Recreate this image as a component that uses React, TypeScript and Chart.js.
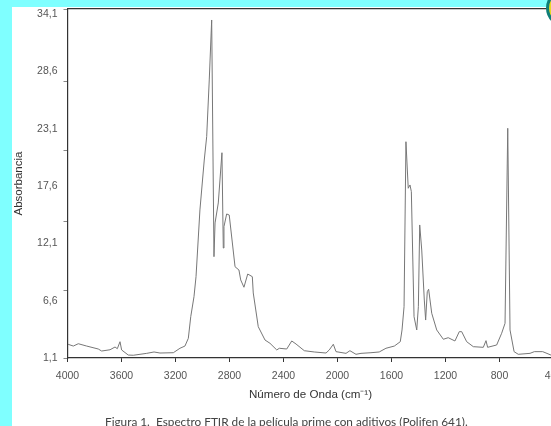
import React, { useEffect, useRef } from "react";
import { Chart, registerables } from "chart.js";

Chart.register(...registerables);

const wavenumbers = [
  3996, 3957, 3920, 3858, 3772, 3747, 3685, 3648, 3631, 3611, 3599, 3550, 3513, 3413, 3359, 3315, 3216, 3167, 3130, 3105,
  3087, 3063, 3048, 3019, 2987, 2969, 2950, 2932, 2915, 2907, 2883, 2856, 2846, 2841, 2821, 2802, 2759, 2730, 2717, 2693,
  2665, 2631, 2624, 2587, 2537, 2500, 2450, 2431, 2376, 2339, 2307, 2246, 2172, 2085, 2061, 2031, 2011, 1937, 1908, 1863,
  1826, 1752, 1691, 1641, 1579, 1535, 1522, 1507, 1493, 1476, 1463, 1453, 1433, 1413, 1401, 1391, 1376, 1357, 1347, 1335,
  1325, 1302, 1265, 1216, 1180, 1130, 1098, 1080, 1043, 994, 920, 900, 888, 821, 784, 759, 739, 722, 692, 661,
  574, 542, 480, 419, 400,
];
const absorbance = [
  2.4, 2.23, 2.45, 2.23, 1.95, 1.76, 1.88, 2.14, 1.98, 2.64, 1.86, 1.38, 1.36, 1.54, 1.67, 1.57, 1.6, 2.02, 2.23, 2.96,
  5.01, 6.9, 8.79, 15.1, 19.82, 22.03, 27.39, 33.06, 10.68, 13.87, 15.76, 20.51, 11.5, 13.52, 14.72, 14.62, 9.73, 9.42, 8.48, 7.79,
  9.04, 8.79, 7.25, 4.06, 2.8, 2.49, 1.86, 2.02, 1.95, 2.71, 2.42, 1.79, 1.67, 1.57, 1.86, 2.4, 1.7, 1.54, 1.79, 1.45,
  1.54, 1.6, 1.67, 2.02, 2.23, 2.64, 3.75, 5.95, 21.55, 17.15, 17.46, 16.83, 5.01, 3.75, 5.95, 13.68, 11.31, 6.58, 4.69, 7.37,
  7.6, 5.33, 3.75, 2.87, 3.02, 2.71, 3.59, 3.59, 2.64, 2.17, 2.11, 2.74, 2.11, 2.33, 3.44, 4.38, 22.82, 3.75, 1.7, 1.45,
  1.54, 1.7, 1.7, 1.38, 1.29,
];
const yTickLabels = [1.1, 6.6, 12.1, 17.6, 23.1, 28.6, 34.1];
const yTickMarks = [1.1, 7.5, 14.0, 20.7, 27.2, 34.1];

const FONT = "'Liberation Sans', Arial, sans-serif";
const AXIS = "#333333";
const TEXT = "#555555";

const fixBox = (s: any, size: { width?: number; height?: number }) => {
  if (size.width !== undefined) s.width = size.width;
  if (size.height !== undefined) s.height = size.height;
  s.paddingTop = 0;
  s.paddingBottom = 0;
  s.paddingLeft = 0;
  s.paddingRight = 0;
};

export default function App() {
  const ref = useRef<HTMLCanvasElement | null>(null);

  useEffect(() => {
    if (!ref.current) return;
    const chart = new Chart(ref.current, {
      type: "line",
      data: {
        datasets: [
          {
            data: wavenumbers.map((x, i) => ({ x, y: absorbance[i] })),
            borderColor: "#777777",
            borderWidth: 1,
            pointRadius: 0,
            tension: 0,
            xAxisID: "x",
            yAxisID: "y",
          },
        ],
      },
      options: {
        animation: false,
        responsive: false,
        layout: { autoPadding: false, padding: { top: 2, right: 46.5, bottom: 24, left: 0 } },
        plugins: { legend: { display: false }, tooltip: { enabled: false } },
        scales: {
          x: {
            type: "linear",
            reverse: true,
            min: 400,
            max: 4000,
            position: "bottom",
            afterFit: (s: any) => fixBox(s, { height: 44 }),
            border: { color: AXIS, width: 1.2 },
            grid: { display: true, drawOnChartArea: false, drawTicks: true, tickLength: 4, color: AXIS },
            ticks: {
              stepSize: 400,
              autoSkip: false,
              maxRotation: 0,
              padding: 8,
              color: TEXT,
              font: { family: FONT, size: 10.5 },
              callback: (v: any) => String(v),
            },
            title: {
              display: true,
              text: "Número de Onda (cm⁻¹)",
              color: "#333333",
              font: { family: FONT, size: 11.6 },
              padding: { top: 4, bottom: 0 },
            },
          },
          xTop: {
            type: "linear",
            min: 400,
            max: 4000,
            position: "top",
            afterFit: (s: any) => fixBox(s, { height: 0 }),
            border: { color: AXIS, width: 1.2 },
            grid: { display: false },
            ticks: { display: false },
          },
          y: {
            type: "linear",
            min: 1.1,
            max: 34.1,
            position: "left",
            weight: 0,
            afterFit: (s: any) => fixBox(s, { width: 4 }),
            afterBuildTicks: (s: any) => {
              s.ticks = yTickMarks.map((value) => ({ value }));
            },
            border: { color: AXIS, width: 1.2 },
            grid: { display: true, drawOnChartArea: false, drawTicks: true, tickLength: 4, color: "#888888" },
            ticks: { display: false },
          },
          yLabels: {
            type: "linear",
            min: 1.1,
            max: 34.58,
            position: "left",
            weight: 1,
            afterFit: (s: any) => fixBox(s, { width: 51.5 }),
            afterBuildTicks: (s: any) => {
              s.ticks = yTickLabels.map((value) => ({ value }));
            },
            border: { display: false },
            grid: { display: false, drawTicks: false },
            ticks: {
              padding: 6,
              color: TEXT,
              font: { family: FONT, size: 10.5 },
              callback: (v: any) => Number(v).toFixed(1).replace(".", ","),
            },
            title: {
              display: true,
              text: "Absorbancia",
              color: "#333333",
              font: { family: FONT, size: 11.5 },
              padding: { top: 0, bottom: 0 },
            },
          },
        },
      },
    });
    return () => chart.destroy();
  }, []);

  return (
    <div
      style={{
        position: "fixed",
        left: 0,
        top: 0,
        width: 551,
        height: 426,
        overflow: "hidden",
        background: "#7fffff",
      }}
    >
      <div style={{ position: "absolute", left: 12, top: 7, width: 539, height: 419, background: "#ffffff", overflow: "hidden" }}>
        <canvas ref={ref} width={588} height={419} style={{ display: "block" }} />
      </div>
      <div
        style={{
          position: "absolute",
          left: 546,
          top: -11,
          width: 32,
          height: 32,
          borderRadius: "50%",
          background: "#e8d820",
          border: "3px solid #0f7f78",
        }}
      />
      <div
        style={{
          position: "absolute",
          left: 105,
          top: 414,
          width: 380,
          fontFamily: "Lato, sans-serif",
          fontSize: 11.8,
          lineHeight: "16px",
          color: "#444444",
          whiteSpace: "pre",
        }}
      >
        Figura 1.  Espectro FTIR de la película prime con aditivos (Polifen 641).
      </div>
    </div>
  );
}
